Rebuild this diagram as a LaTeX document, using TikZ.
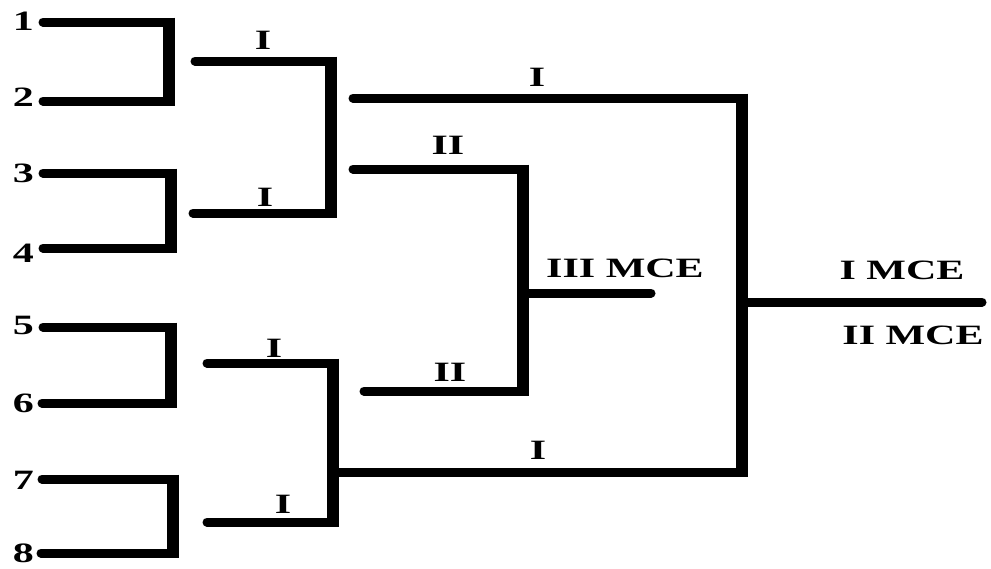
\documentclass[tikz,border=0pt]{standalone}
\usepackage{fontspec}
\setmainfont{Liberation Serif}
\begin{document}
\begin{tikzpicture}[x=1pt,y=-1pt,
  hwire/.style={line width=9pt,line cap=round},
  vwire/.style={line width=12pt,line cap=butt},
  lbl/.style={inner sep=0pt,font=\fontsize{28}{28}\selectfont\bfseries},
  num/.style={lbl,anchor=east}]
\useasboundingbox (0,0) rectangle (991,568);
\newcommand{\wide}[1]{\scalebox{1.5}[1]{#1}}
% bracket: start of upper line, upper corner, lower corner, start of lower line
\newcommand{\bracketlines}[4]{%
  \draw[hwire] (#1) -- (#2);
  \draw[hwire] (#4) -- (#3);
  \draw[vwire] ([yshift=4.5pt]#2) -- ([yshift=-4.5pt]#3);}
% player numbers
\node[num] (n1) at (34,21) {\wide{1}};
\node[num] (n2) at (34,97) {\wide{2}};
\node[num] (n3) at (34,173) {\wide{3}};
\node[num] (n4) at (34,253) {\wide{4}};
\node[num] (n5) at (34,325) {\wide{5}};
\node[num] (n6) at (34,403) {\wide{6}};
\node[num] (n7) at (34,480) {\wide{7}};
\node[num] (n8) at (34,553) {\wide{8}};
% round 1 coordinates
\coordinate (s1) at (43,22);  \coordinate (c1) at (169,22);
\coordinate (s2) at (43,101); \coordinate (c2) at (169,101);
\coordinate (s3) at (43,173); \coordinate (c3) at (171,173);
\coordinate (s4) at (43,248); \coordinate (c4) at (171,248);
\coordinate (s5) at (43,327); \coordinate (c5) at (171,327);
\coordinate (s6) at (42,403); \coordinate (c6) at (171,403);
\coordinate (s7) at (42,479); \coordinate (c7) at (173,479);
\coordinate (s8) at (41,553); \coordinate (c8) at (173,553);
\bracketlines{s1}{c1}{c2}{s2}
\bracketlines{s3}{c3}{c4}{s4}
\bracketlines{s5}{c5}{c6}{s6}
\bracketlines{s7}{c7}{c8}{s8}
% round 2 coordinates
\coordinate (t1) at (195,61);  \coordinate (d1) at (331,61);
\coordinate (t2) at (193,213); \coordinate (d2) at (331,213);
\coordinate (t3) at (207,363); \coordinate (d3) at (333,363);
\coordinate (t4) at (207,522); \coordinate (d4) at (333,522);
\bracketlines{t1}{d1}{d2}{t2}
\bracketlines{t3}{d3}{d4}{t4}
\node[lbl] (l1) at (263,40) {\wide{I}};
\node[lbl] (l2) at (265,197) {\wide{I}};
\node[lbl] (l3) at (274,348) {\wide{I}};
\node[lbl] (l4) at (283,504) {\wide{I}};
% round 3 coordinates
\coordinate (u1) at (353,98);  \coordinate (e1) at (742,98);
\coordinate (u2) at (353,169); \coordinate (e2) at (523,169);
\coordinate (u3) at (364,391); \coordinate (e3) at (523,391);
\coordinate (m3) at (523,293); \coordinate (f3) at (651,293);
\coordinate (u4) at (333,472); \coordinate (e4) at (742,472);
\coordinate (m1) at (742,302); \coordinate (f1) at (982,302);
\bracketlines{u1}{e1}{e4}{u4}
\bracketlines{u2}{e2}{e3}{u3}
\draw[hwire] (m3) -- (f3);
\draw[hwire] (m1) -- (f1);
\node[lbl] (k1) at (537,77) {\wide{I}};
\node[lbl] (k2) at (448,145) {\wide{II}};
\node[lbl] (k3) at (450,372) {\wide{II}};
\node[lbl] (k4) at (538,450) {\wide{I}};
\node[lbl] (k5) at (625,268) {\wide{III MCE}};
\node[lbl] (k6) at (902,270) {\wide{I MCE}};
\node[lbl] (k7) at (913,335) {\wide{II MCE}};
\end{tikzpicture}
\end{document}
